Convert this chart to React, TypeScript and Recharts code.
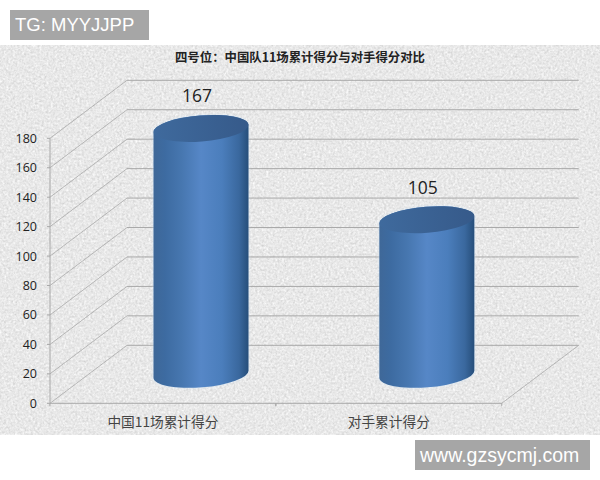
import React from "react";
import { BarChart, Bar, XAxis, YAxis, CartesianGrid } from "recharts";

const categories = ["中国11场累计得分", "对手累计得分"];
const scores = [167, 105];
const yTicks = [0, 20, 40, 60, 80, 100, 120, 140, 160, 180];
const chartTitle = "四号位：中国队11场累计得分与对手得分对比";
const topMark = "TG: MYYJJPP";
const bottomMark = "www.gzsycmj.com";

const data = categories.map((name, i) => ({ name, score: scores[i] }));

const DEPTH_X = 77;
const DEPTH_Y = 58;
const GRID = "#a8a8a8";
const ROT = -4.5;
const RY = 13;

const Cylinder = (props: any) => {
  const { x, y, width, height } = props;
  const cx = x + width / 2 + DEPTH_X / 2;
  const rx = width / 2;
  const top = y - DEPTH_Y / 2;
  const bottom = y + height - DEPTH_Y / 2;
  const a = (ROT * Math.PI) / 180;
  const dy = rx * Math.sin(a);
  const lx = cx - rx;
  const rxx = cx + rx;
  const body = `M ${lx} ${top - dy} L ${lx} ${bottom - dy} A ${rx} ${RY} ${ROT} 0 0 ${rxx} ${bottom + dy} L ${rxx} ${top + dy} A ${rx} ${RY} ${ROT} 0 0 ${lx} ${top - dy} Z`;
  return (
    <g>
      <defs>
        <linearGradient id="cylBody" x1="0" y1="0" x2="1" y2="0">
          <stop offset="0" stopColor="#3f6898" />
          <stop offset="0.12" stopColor="#3d6ba1" />
          <stop offset="0.3" stopColor="#4777b0" />
          <stop offset="0.5" stopColor="#5687c7" />
          <stop offset="0.72" stopColor="#4b7ebc" />
          <stop offset="0.9" stopColor="#3a689e" />
          <stop offset="1" stopColor="#264e7a" />
        </linearGradient>
        <linearGradient id="cylTop" x1="0" y1="0" x2="1" y2="0">
          <stop offset="0" stopColor="#3f6a9d" />
          <stop offset="1" stopColor="#365a8a" />
        </linearGradient>
        <filter id="cylGlow" x="-10%" y="-10%" width="120%" height="120%">
          <feGaussianBlur stdDeviation="1" />
        </filter>
      </defs>
      <path d={body} fill="#cfe4f8" stroke="#cfe4f8" strokeWidth={1} opacity={0.6} filter="url(#cylGlow)" />
      <path d={body} fill="url(#cylBody)" />
      <ellipse
        cx={cx}
        cy={top}
        rx={rx}
        ry={RY}
        fill="url(#cylTop)"
        transform={`rotate(${ROT} ${cx} ${top})`}
      />
    </g>
  );
};

const ScoreLabel = (props: any) => {
  const { x, y, width, value } = props;
  return (
    <text
      x={x + width / 2 + DEPTH_X / 2 - 4}
      y={y - DEPTH_Y / 2 - 33}
      textAnchor="middle"
      dominantBaseline="central"
      fontFamily="'Open Sans', sans-serif"
      fontSize={17.5}
      fill="#222"
    >
      {value}
    </text>
  );
};

const GridLine = (props: any) => {
  const { x1, x2, y1 } = props;
  const isFloor = Math.abs(y1 - 403.3) < 1;
  return (
    <g key={`grid-${y1}`} stroke={GRID} fill="none">
      <line x1={x1} y1={y1} x2={x1 + DEPTH_X} y2={y1 - DEPTH_Y} strokeWidth={0.8} />
      <line x1={x1 + DEPTH_X} y1={y1 - DEPTH_Y} x2={x2 + DEPTH_X} y2={y1 - DEPTH_Y} strokeWidth={1} />
      {isFloor && (
        <line x1={x2} y1={y1} x2={x2 + DEPTH_X} y2={y1 - DEPTH_Y} strokeWidth={0.8} />
      )}
    </g>
  );
};

const CategoryTick = (props: any) => {
  const { x, y, payload } = props;
  return (
    <g>
      <line x1={x - 113} y1={y - 8} x2={x - 113} y2={y - 5} stroke={GRID} />
      <line x1={x + 113} y1={y - 8} x2={x + 113} y2={y - 5} stroke={GRID} />
      <text
        x={x}
        y={y + 10}
        textAnchor="middle"
        dominantBaseline="central"
        fontFamily="'Noto Sans CJK SC', sans-serif"
        fontSize={13.7}
        fill="#444"
      >
        {payload.value}
      </text>
    </g>
  );
};

const markStyle: React.CSSProperties = {
  position: "absolute",
  background: "#a6a6a6",
  color: "#fff",
  fontFamily: "'Liberation Sans', sans-serif",
  boxSizing: "border-box",
  whiteSpace: "nowrap",
};

export default function App() {
  return (
    <div style={{ position: "absolute", left: 0, top: 0, width: 600, height: 480, background: "#fff", overflow: "hidden" }}>
      <svg width={600} height={390} style={{ position: "absolute", left: 0, top: 45 }}>
        <defs>
          <filter id="speckle" x="0" y="0" width="100%" height="100%" colorInterpolationFilters="sRGB">
            <feTurbulence type="fractalNoise" baseFrequency="0.45" numOctaves={2} seed={4} />
            <feColorMatrix
              type="matrix"
              values="0.14 0.14 0 0 0.77  0.14 0.14 0 0 0.77  0.14 0.14 0 0 0.77  0 0 0 0 1"
            />
            <feGaussianBlur stdDeviation="0.5" />
          </filter>
        </defs>
        <rect width={600} height={390} fill="#e4e4e4" filter="url(#speckle)" />
      </svg>
      <div style={{ position: "absolute", left: 0, top: 0 }}>
        <BarChart
          width={600}
          height={480}
          data={data}
          margin={{ top: 138.3, right: 98.3, bottom: 46.7, left: 0 }}
          barSize={95}
        >
          <CartesianGrid vertical={false} horizontal={GridLine as any} syncWithTicks />
          <XAxis
            dataKey="name"
            height={30}
            interval={0}
            tick={CategoryTick as any}
            tickLine={false}
            axisLine={{ stroke: GRID }}
          />
          <YAxis
            width={50}
            domain={[0, 180]}
            ticks={yTicks}
            interval={0}
            tickSize={3}
            tickMargin={10}
            tickLine={{ stroke: GRID }}
            axisLine={{ stroke: GRID }}
            tick={{ fontFamily: "'Open Sans', sans-serif", fontSize: 12.5, fill: "#222" }}
          />
          <Bar dataKey="score" shape={Cylinder as any} label={ScoreLabel as any} isAnimationActive={false} />
        </BarChart>
      </div>
      <div
        style={{
          position: "absolute",
          left: 0,
          width: 600,
          textAlign: "center",
          top: 49,
          fontFamily: "'Noto Sans CJK SC', sans-serif",
          fontWeight: 700,
          fontSize: 12.4,
          lineHeight: "17px",
          color: "#222",
        }}
      >
        {chartTitle}
      </div>
      <div style={{ ...markStyle, left: 10, top: 10, width: 139, height: 30, fontSize: 18.5, lineHeight: "30px", paddingLeft: 5 }}>
        {topMark}
      </div>
      <div style={{ ...markStyle, left: 415, top: 440, width: 175, height: 30, fontSize: 19.5, lineHeight: "30px", paddingLeft: 5 }}>
        {bottomMark}
      </div>
    </div>
  );
}
